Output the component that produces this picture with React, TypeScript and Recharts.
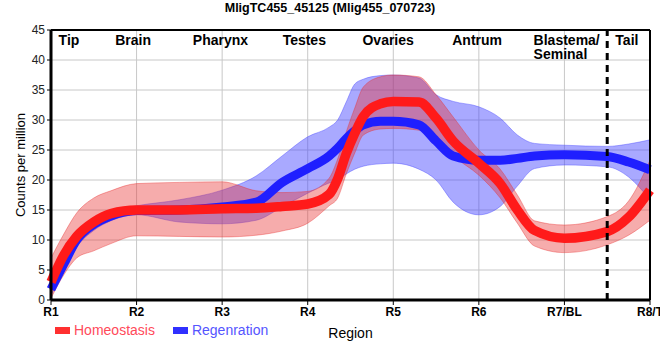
import { ComposedChart, Area, Line, Scatter, XAxis, YAxis, CartesianGrid, ReferenceLine, Label } from 'recharts';

const title = 'MligTC455_45125 (Mlig455_070723)';

const tickLabels = ['R1', 'R2', 'R3', 'R4', 'R5', 'R6', 'R7/BL', 'R8/T'];
const yTicks = [0, 5, 10, 15, 20, 25, 30, 35, 40, 45];

// position along the body (1 = R1 ... 8 = R8/T)
const position = [1, 1.15, 1.3, 1.5, 1.7, 2, 2.5, 3, 3.4, 3.7, 4, 4.25, 4.35, 4.45, 4.55, 4.65, 4.85, 5, 5.3, 5.5, 5.7, 6, 6.25, 6.45, 6.65, 7, 7.5, 7.75, 8];

const homeostasis = [3, 7.5, 10.6, 13, 14.4, 15, 15, 15.2, 15.3, 15.6, 16, 17.6, 20.2, 24.4, 27.8, 30.6, 32.7, 33.1, 33, 30.3, 26.5, 22.8, 19.4, 15, 11.6, 10.3, 11.4, 13.8, 18.3];
const homeostasisLow = [0.3, 4.2, 7, 8.2, 9.4, 10.7, 10.6, 10.5, 10.8, 11.5, 12.8, 15.7, 17, 21, 24.5, 27.5, 28.5, 28.6, 28.3, 26.8, 24, 20.8, 17, 12.8, 9, 7.9, 9.2, 10.8, 13.3];
const homeostasisHigh = [7, 11, 14.5, 17, 18.2, 19.4, 19.6, 19.7, 18.2, 17.9, 18.1, 20.3, 23.5, 28, 32, 35.5, 37.2, 37.5, 37.2, 34.2, 30.5, 25, 21.8, 17.5, 13.2, 12.5, 13.9, 16.5, 23.3];

const regeneration = [1.8, 6, 10, 12.6, 14, 14.9, 15, 15.5, 16.3, 19.6, 21.9, 24, 25.3, 26.9, 28.2, 29.2, 29.8, 29.8, 29.2, 26.5, 24, 23.3, 23.3, 23.6, 24, 24.2, 23.9, 23, 21.7];
const regenerationLow = [0.8, 4.8, 8.8, 11.6, 13.2, 14.2, 13, 12.7, 13.3, 15.5, 17.8, 19.5, 20, 21, 21.8, 22.3, 22.7, 22.8, 21.8, 20, 16.3, 14.2, 15.6, 19, 21.9, 22.5, 22.2, 20.5, 16.7];
const regenerationHigh = [3, 7.2, 11.2, 13.6, 14.8, 15.7, 16.7, 18.3, 20.7, 24, 27.2, 28.8, 30, 33, 36, 36.8, 37.4, 37.5, 37, 34.2, 33.1, 32.2, 30.3, 27.5, 26.1, 25.8, 25.6, 26, 26.7];

const regionNames = ['Tip', 'Brain', 'Pharynx', 'Testes', 'Ovaries', 'Antrum', 'Blastema/\nSeminal', 'Tail'];
const regionPos = [1.21, 1.96, 2.98, 3.96, 4.94, 5.98, 6.64, 7.73];

const rows = position.map((x, i) => ({
  x,
  homeo: homeostasis[i],
  homeoBand: [homeostasisLow[i], homeostasisHigh[i]],
  regen: regeneration[i],
  regenBand: [regenerationLow[i], regenerationHigh[i]],
}));

const regions = regionNames.map((name, i) => ({ x: regionPos[i], y: 43, name }));

const font = '"Liberation Sans", Arial, sans-serif';

function RegionLabel(props: any) {
  const { cx, cy, payload } = props;
  const lines = String(payload.name).split('\n');
  return (
    <text
      x={cx}
      y={cy + 3}
      textAnchor={lines.length > 1 ? 'start' : 'middle'}
      fontFamily={font}
      fontSize={14}
      fontWeight="bold"
      fill="#000"
    >
      {lines.map((l, i) => (
        <tspan key={l} x={cx} dy={i === 0 ? 0 : 14}>{l}</tspan>
      ))}
    </text>
  );
}

export default function App() {
  return (
    <div style={{ position: 'absolute', left: 0, top: 0, width: 660, height: 360, fontFamily: font, background: '#fff' }}>
      <div style={{ position: 'absolute', top: 1, left: 0, width: 660, textAlign: 'center', fontWeight: 'bold', fontSize: 12.5, lineHeight: '14px' }}>
        {title}
      </div>
      <ComposedChart width={660} height={360} data={rows} margin={{ top: 30, right: 10, bottom: 0, left: 0 }}>
        <CartesianGrid stroke="#c8c8c8" />
        <XAxis
          type="number"
          dataKey="x"
          domain={[1, 8]}
          ticks={[1, 2, 3, 4, 5, 6, 7, 8]}
          tickFormatter={(v) => tickLabels[v - 1]}
          height={60}
          axisLine={{ stroke: '#000', strokeWidth: 3 }}
          tickLine={{ stroke: '#000' }}
          tickSize={5}
          tick={{ fill: '#000', fontSize: 12, fontWeight: 'bold', fontFamily: font }}
          interval={0}
        >
          <Label value="Region" position="insideBottom" offset={22} style={{ fontSize: 14, fill: '#000', fontFamily: font }} />
        </XAxis>
        <YAxis
          domain={[0, 45]}
          ticks={yTicks}
          width={51}
          axisLine={{ stroke: '#000', strokeWidth: 3 }}
          tickLine={{ stroke: '#000' }}
          tickSize={4}
          tick={{ fill: '#222', fontSize: 12, fontFamily: font }}
          interval={0}
        >
          <Label value="Counts per million" angle={-90} position="insideLeft" offset={20} style={{ textAnchor: 'middle', fontSize: 13, fill: '#000', fontFamily: font }} />
        </YAxis>
        <Area type="monotone" dataKey="regenBand" fill="#4040ff" fillOpacity={0.45} stroke="#4040ff" strokeOpacity={0.4} strokeWidth={1} isAnimationActive={false} />
        <Line type="monotone" dataKey="regen" stroke="#1f1fff" strokeWidth={9} dot={false} isAnimationActive={false} />
        <Area type="monotone" dataKey="homeoBand" fill="#e83030" fillOpacity={0.4} stroke="#e83030" strokeOpacity={0.4} strokeWidth={1} isAnimationActive={false} />
        <Line type="monotone" dataKey="homeo" stroke="#ff1a1a" strokeWidth={9.5} dot={false} isAnimationActive={false} />
        <ReferenceLine x={7.5} stroke="#000" strokeWidth={3} strokeDasharray="7 5" />
        <ReferenceLine y={45} stroke="#000" strokeWidth={2} />
        <ReferenceLine x={8} stroke="#000" strokeWidth={2} />
        <Scatter data={regions} dataKey="y" shape={<RegionLabel />} isAnimationActive={false} />
      </ComposedChart>
      <div style={{ position: 'absolute', left: 55, top: 321, height: 18, display: 'flex', alignItems: 'center', fontSize: 14 }}>
        <span style={{ width: 15, height: 7, background: '#ff3030', marginRight: 4 }} />
        <span style={{ color: '#ff4a5a' }}>Homeostasis</span>
        <span style={{ width: 15, height: 7, background: '#3030ff', marginLeft: 18, marginRight: 4 }} />
        <span style={{ color: '#5555ff' }}>Regenration</span>
      </div>
    </div>
  );
}
